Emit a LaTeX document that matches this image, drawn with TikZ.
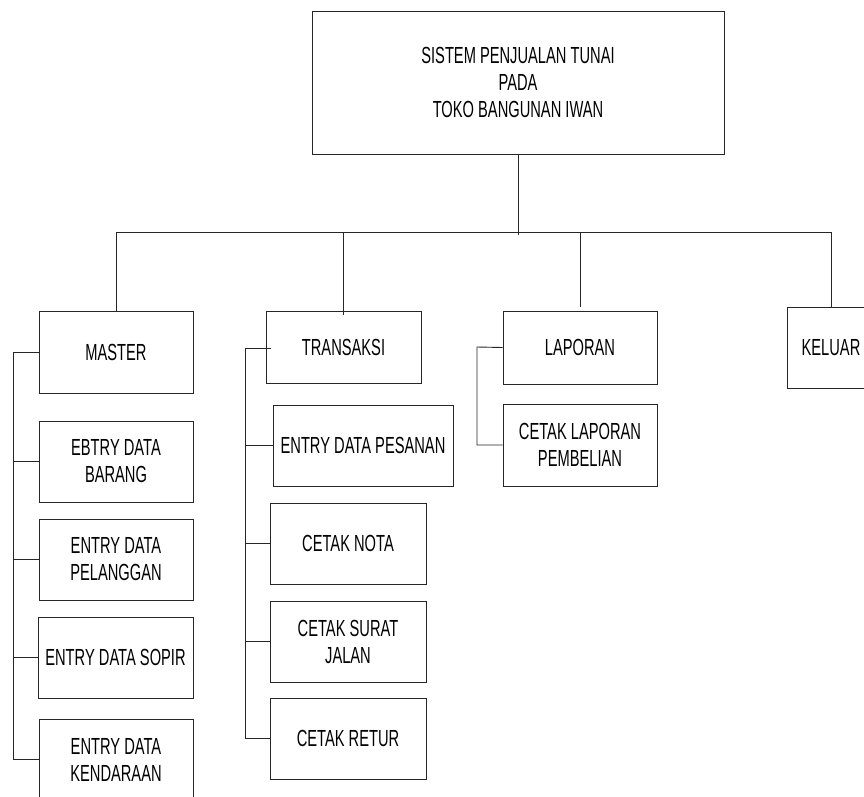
\documentclass[tikz,border=0pt]{standalone}
\usepackage{fontspec}
\setmainfont{Liberation Sans}[FakeStretch=0.63]
\usetikzlibrary{calc}
\tikzset{
  menubox/.style={draw=black!85, line width=0.9pt, rectangle, inner sep=0pt,
    align=center, font=\fontsize{23.3}{27}\selectfont},
  link/.style={draw=black!85, line width=0.9pt}
}
\begin{document}
\begin{tikzpicture}[x=1pt, y=-1pt]
  \useasboundingbox (0,0) rectangle (864,796);
  \clip (0,0) rectangle (864,796);
  \fill[white] (0,0) rectangle (864,796);

  % root
  \node[menubox, minimum width=412pt, minimum height=143pt] (root) at (518,82.5)
    {SISTEM PENJUALAN TUNAI\\PADA\\TOKO BANGUNAN IWAN};

  % first level
  \node[menubox, minimum width=154pt, minimum height=82pt] (master) at (116,352) {MASTER};
  \node[menubox, minimum width=155pt, minimum height=72pt] (trans) at (343.5,347) {TRANSAKSI};
  \node[menubox, minimum width=154pt, minimum height=73pt] (lap) at (580,347.5) {LAPORAN};
  \node[menubox, minimum width=88pt, minimum height=81pt] (keluar) at (831,347.5) {KELUAR};

  % MASTER items
  \node[menubox, minimum width=154pt, minimum height=81pt] (barang) at (116,461.5) {EBTRY DATA\\BARANG};
  \node[menubox, minimum width=154pt, minimum height=81pt] (pelanggan) at (116,559.5) {ENTRY DATA\\PELANGGAN};
  \node[menubox, minimum width=155pt, minimum height=81pt] (sopir) at (115.5,657.5) {ENTRY DATA SOPIR};
  \node[menubox, minimum width=154pt, minimum height=81pt] (kendaraan) at (116,759.5) {ENTRY DATA\\KENDARAAN};

  % TRANSAKSI items
  \node[menubox, minimum width=180pt, minimum height=81pt] (pesanan) at (363,445.5) {ENTRY DATA PESANAN};
  \node[menubox, minimum width=156pt, minimum height=81pt] (nota) at (348,543.5) {CETAK NOTA};
  \node[menubox, minimum width=156pt, minimum height=81pt] (surat) at (348,641.5) {CETAK SURAT\\JALAN};
  \node[menubox, minimum width=156pt, minimum height=81pt] (retur) at (348,738.5) {CETAK RETUR};

  % LAPORAN items
  \node[menubox, minimum width=154pt, minimum height=82pt] (pembelian) at (580,445) {CETAK LAPORAN\\PEMBELIAN};

  % main bus
  \coordinate (bus) at (518,232);
  \draw[link] (root.south) -- ($(root.south |- bus)+(0,3)$);
  \draw[link] (master.north) -- (master.north |- bus) -- (keluar.north |- bus) -- (keluar.north);
  \draw[link] ($(trans.north)+(0,4)$) -- (trans.north |- bus);
  \draw[link] ($(lap.north)+(0,-4)$) -- (lap.north |- bus);

  % MASTER branch
  \coordinate (mbar) at (13,352);
  \draw[link] (master.west) -- (master.west -| mbar) -- (kendaraan.west -| mbar) -- (kendaraan.west);
  \draw[link] (barang.west) -- (barang.west -| mbar);
  \draw[link] (pelanggan.west) -- (pelanggan.west -| mbar);
  \draw[link] (sopir.west) -- (sopir.west -| mbar);

  % TRANSAKSI branch
  \coordinate (tbar) at (245,348);
  \draw[link] ($(trans.west)+(5,1)$) -- (tbar) -- (retur.west -| tbar) -- (retur.west);
  \draw[link] (pesanan.west) -- (pesanan.west -| tbar);
  \draw[link] (nota.west) -- (nota.west -| tbar);
  \draw[link] (surat.west) -- (surat.west -| tbar);

  % LAPORAN branch
  \coordinate (lbar) at (477,347);
  \draw[link] (lap.west) -- (lbar) -- (pembelian.west -| lbar) -- (pembelian.west);
\end{tikzpicture}
\end{document}
